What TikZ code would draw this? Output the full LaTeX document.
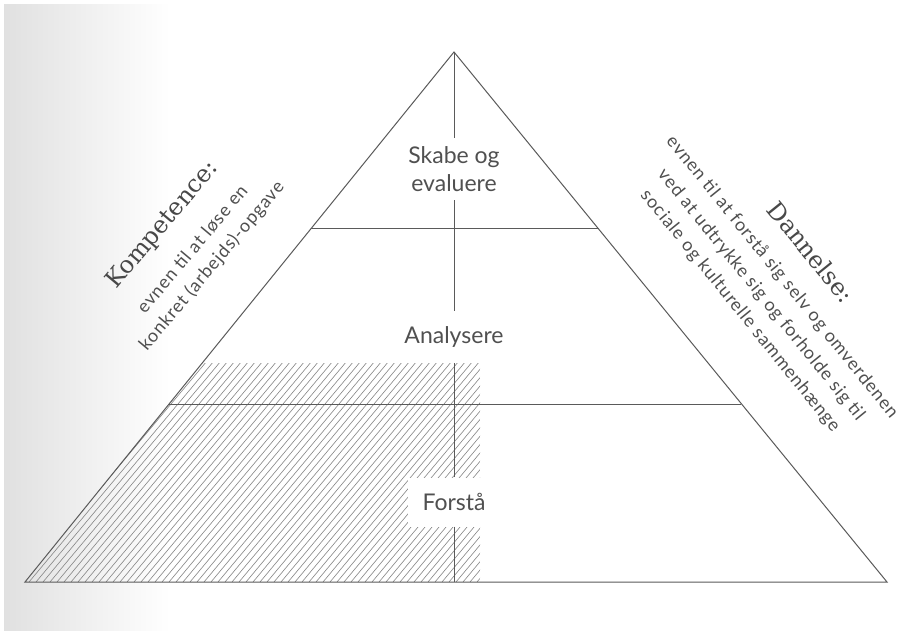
\documentclass[tikz,border=0pt]{standalone}
\usepackage{fontspec}
\setmainfont{Lato}
\newfontfamily\slabfont{DejaVu Serif}
\newfontfamily\sidefont[LetterSpace=5]{Lato}
\usepackage{tikz}

\definecolor{linegray}{HTML}{5A5A5A}
\definecolor{txtgray}{HTML}{505050}
\definecolor{hatchgray}{HTML}{858585}

\begin{document}
\begin{tikzpicture}[x=1pt,y=-1pt,
  level node/.style={rectangle,inner sep=0pt,align=center,text=txtgray,
    font=\fontsize{23}{28}\selectfont},
  title node/.style={inner sep=0pt,text=txtgray!90!black,
    font=\slabfont\fontsize{24}{28}\selectfont},
  side node/.style={inner sep=0pt,text=txtgray,
    font=\sidefont\fontsize{18}{22}\selectfont},
  edge line/.style={draw=linegray,line width=1pt}]

  \useasboundingbox (0,0) rectangle (902,631);
  \fill[white] (0,0) rectangle (902,631);
  \shade[left color=black!12,right color=white] (4,5) rectangle (170,631);

  % pyramid corners
  \coordinate (top) at (454,52);
  \coordinate (bl) at (25,582);
  \coordinate (br) at (887,582);
  \coordinate (bm) at (454,582);
  \coordinate (l1) at (311,229);
  \coordinate (r1) at (599,229);
  \coordinate (l2) at (169,404);
  \coordinate (r2) at (741,404);

  % hatched part
  \begin{scope}
    \clip (bl) -- (202,363) -- (480,363) -- (480,582) -- cycle;
    \foreach \x in {-230,-223,...,480}
      \draw[hatchgray,line width=0.6pt] (\x,582) -- ++(231,-276);
  \end{scope}

  \node[level node,minimum height=62pt] (skabe) at (454,169) {Skabe og\\evaluere};
  \node[level node,minimum height=52pt] (analyse) at (454,337) {Analysere};
  \node[level node,fill=white,minimum height=49pt,minimum width=92pt] (forsta) at (454,502) {Forstå};

  \draw[edge line] (bl) -- (top) -- (br) -- cycle;
  \draw[edge line] (l1) -- (r1);
  \draw[edge line] (l2) -- (r2);
  \draw[edge line] (top) -- (skabe) -- (analyse) -- (forsta) -- (bm);

  % left side text
  \node[title node,rotate=50] (komp) at (163,225) {Kompetence:};
  \node[side node,rotate=50] (komp1) at (192,249) {evnen til at løse en};
  \node[side node,rotate=50] (komp2) at (212,266) {konkret (arbejds)-opgave};

  % right side text
  \node[title node,rotate=-51] (dan) at (811,252) {Dannelse:};
  \node[side node,rotate=-51] (dan1) at (782,277) {evnen til at forstå sig selv og omverdenen};
  \node[side node,rotate=-51] (dan2) at (761,295) {ved at udtrykke sig og forholde sig til};
  \node[side node,rotate=-51] (dan3) at (740,311) {sociale og kulturelle sammenhænge};

\end{tikzpicture}
\end{document}
